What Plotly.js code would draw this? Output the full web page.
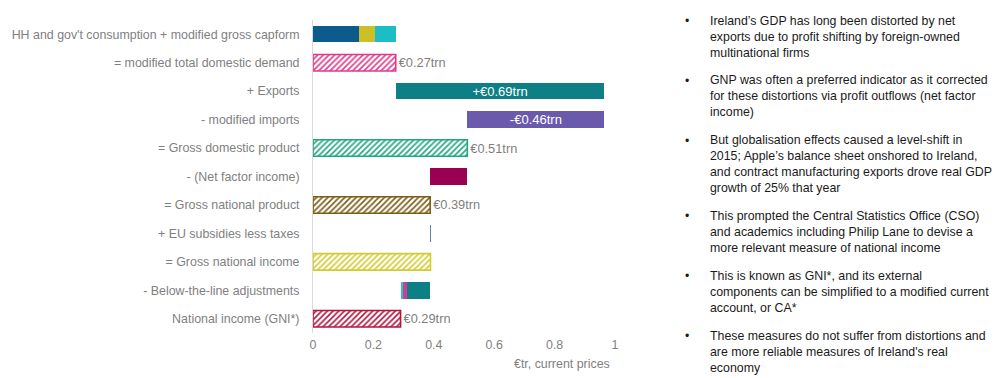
<!DOCTYPE html>
<html>
<head>
<meta charset="utf-8">
<script src="https://cdn.plot.ly/plotly-3.0.1.min.js"></script>
<style>
html,body{margin:0;padding:0;background:#fff;}
#chart{width:1000px;height:378px;}
</style>
</head>
<body>
<div id="chart"></div>
<script>
// ---------- DATA ----------
const categories = [
  "HH and gov't consumption + modified gross capform",
  "= modified total domestic demand",
  "+ Exports",
  "- modified imports",
  "= Gross domestic product",
  "- (Net factor income)",
  "= Gross national product",
  "+ EU subsidies less taxes",
  "= Gross national income",
  "- Below-the-line adjustments",
  "National income (GNI*)"
];
const domesticComponents = [0.151, 0.055, 0.068];   // €trn
const totalDomesticDemand = 0.274;
const exportsValue = 0.691;
const importsValue = 0.454;
const gdpValue = 0.511;
const netFactorIncome = 0.123;
const gnpValue = 0.388;
const euSubsidies = 0.003;
const gniValue = 0.389;
const belowLineComponents = [0.009, 0.011, 0.079];
const gniStarValue = 0.290;
const valueLabels = ["€0.27trn", "+€0.69trn", "-€0.46trn", "€0.51trn", "€0.39trn", "€0.29trn"];
const xTickValues = [0, 0.2, 0.4, 0.6, 0.8, 1];
const xTickLabels = ["0", "0.2", "0.4", "0.6", "0.8", "1"];
const xAxisTitle = "€tr, current prices";
const bulletParagraphs = [
  ["Ireland’s GDP has long been distorted by net", "exports due to profit shifting by foreign-owned", "multinational firms"],
  ["GNP was often a preferred indicator as it corrected", "for these distortions via profit outflows (net factor", "income)"],
  ["But globalisation effects caused a level-shift in", "2015; Apple’s balance sheet onshored to Ireland,", "and contract manufacturing exports drove real GDP", "growth of 25% that year"],
  ["This prompted the Central Statistics Office (CSO)", "and academics including Philip Lane to devise a", "more relevant measure of national income"],
  ["This is known as GNI*, and its external", "components can be simplified to a modified current", "account, or CA*"],
  ["These measures do not suffer from distortions and", "are more reliable measures of Ireland's real", "economy"]
];

// ---------- STYLES ----------
const C = {
  hhBlue:'#0b5b8d', govOlive:'#cbc027', capCyan:'#1cbdc6',
  pink:'#e0398b', teal:'#0d7f85', purple:'#6b5aab', green:'#1fa77f',
  maroon:'#9a0052', brown:'#7b5d13', steel:'#5a88aa', yellow:'#d3cb32',
  blCyan:'#28c3cd', blPink:'#d13c9b', crimson:'#b2163f'
};
const grey = '#7f7f7f';
const FONT = 'Liberation Sans, Arial, sans-serif';
const BW = 0.58;

const traces = [];
function solid(cat, base, val, color, text) {
  const t = {
    type:'bar', orientation:'h', y:[cat], x:[val], base:[base], width:BW,
    marker:{color:color, line:{width:0}}, hoverinfo:'skip', cliponaxis:false
  };
  if (text) {
    t.text = [text]; t.textposition = 'inside'; t.insidetextanchor = 'middle';
    t.textangle = 0; t.constraintext = 'none';
    t.textfont = {color:'#ffffff', size:13, family:FONT};
  }
  traces.push(t);
}
function hatched(cat, val, color, text) {
  const t = {
    type:'bar', orientation:'h', y:[cat], x:[val], base:[0], width:BW,
    marker:{color:'#ffffff', line:{width:1.6, color:color},
      pattern:{shape:'/', fgcolor:color, bgcolor:'#ffffff', size:4, solidity:0.4, fillmode:'replace'}},
    hoverinfo:'skip', cliponaxis:false
  };
  if (text) {
    t.text = [text]; t.textposition = 'outside'; t.textangle = 0; t.constraintext = 'none';
    t.textfont = {color:grey, size:12.8, family:FONT};
  }
  traces.push(t);
}

// row 1 stacked components
const domColors = [C.hhBlue, C.govOlive, C.capCyan];
let acc = 0;
domesticComponents.forEach((v,i)=>{ solid(categories[0], acc, v, domColors[i]); acc += v; });
hatched(categories[1], totalDomesticDemand, C.pink, valueLabels[0]);
solid(categories[2], totalDomesticDemand, exportsValue, C.teal, valueLabels[1]);
solid(categories[3], gdpValue, importsValue, C.purple, valueLabels[2]);
hatched(categories[4], gdpValue, C.green, valueLabels[3]);
solid(categories[5], gnpValue, netFactorIncome, C.maroon);
hatched(categories[6], gnpValue, C.brown, valueLabels[4]);
solid(categories[7], gnpValue, euSubsidies, C.steel);
hatched(categories[8], gniValue, C.yellow);
const blColors = [C.blCyan, C.blPink, C.teal];
acc = gniStarValue;
belowLineComponents.forEach((v,i)=>{ solid(categories[9], acc, v, blColors[i]); acc += v; });
hatched(categories[10], gniStarValue, C.crimson, valueLabels[5]);

// ---------- LAYOUT ----------
const L = 312.5, R = 615, T = 19.75, B = 333.25;
const W = R - L, H = B - T;
const px2x = px => (px - L) / W;
const py2y = py => (B - py) / H;

const annotations = [];
annotations.push({
  xref:'paper', yref:'paper', x:px2x(612), y:py2y(364), xanchor:'right', yanchor:'middle',
  text:xAxisTitle, showarrow:false, font:{family:FONT, size:12.4, color:grey}
});
const lineH = 15.6, paraGap = 13.2;
let firstLine = 20.7;
bulletParagraphs.forEach(lines => {
  const n = lines.length;
  const center = firstLine + (n - 1) * lineH / 2;
  annotations.push({
    xref:'paper', yref:'paper', x:px2x(708), y:py2y(center), xanchor:'left', yanchor:'middle',
    align:'left', text:lines.join('<br>'), showarrow:false,
    font:{family:FONT, size:12.35, color:'#1a1a1a'}
  });
  annotations.push({
    xref:'paper', yref:'paper', x:px2x(687), y:py2y(firstLine), xanchor:'center', yanchor:'middle',
    text:'•', showarrow:false, font:{family:FONT, size:12.2, color:'#1a1a1a'}
  });
  firstLine += n * lineH + paraGap;
});

const layout = {
  width:1000, height:378,
  margin:{l:L, r:1000-R, t:T, b:378-B, pad:0},
  paper_bgcolor:'#ffffff', plot_bgcolor:'#ffffff',
  barmode:'overlay', showlegend:false, bargap:0,
  font:{family:FONT, color:grey},
  xaxis:{range:[0,1], tickvals:xTickValues, ticktext:xTickLabels, showgrid:false,
    zeroline:false, showline:false, ticks:'', fixedrange:true,
    tickfont:{family:FONT, size:12.4, color:grey}, ticklabelstandoff:3},
  yaxis:{type:'category', categoryorder:'array', categoryarray:categories,
    autorange:'reversed', showgrid:false, zeroline:false, showline:true,
    linecolor:'#d9d9d9', linewidth:1, ticks:'', ticklabelstandoff:10, fixedrange:true,
    tickfont:{family:FONT, size:12.4, color:grey}},
  annotations:annotations
};

Plotly.newPlot('chart', traces, layout, {displayModeBar:false, staticPlot:true});
</script>
</body>
</html>
